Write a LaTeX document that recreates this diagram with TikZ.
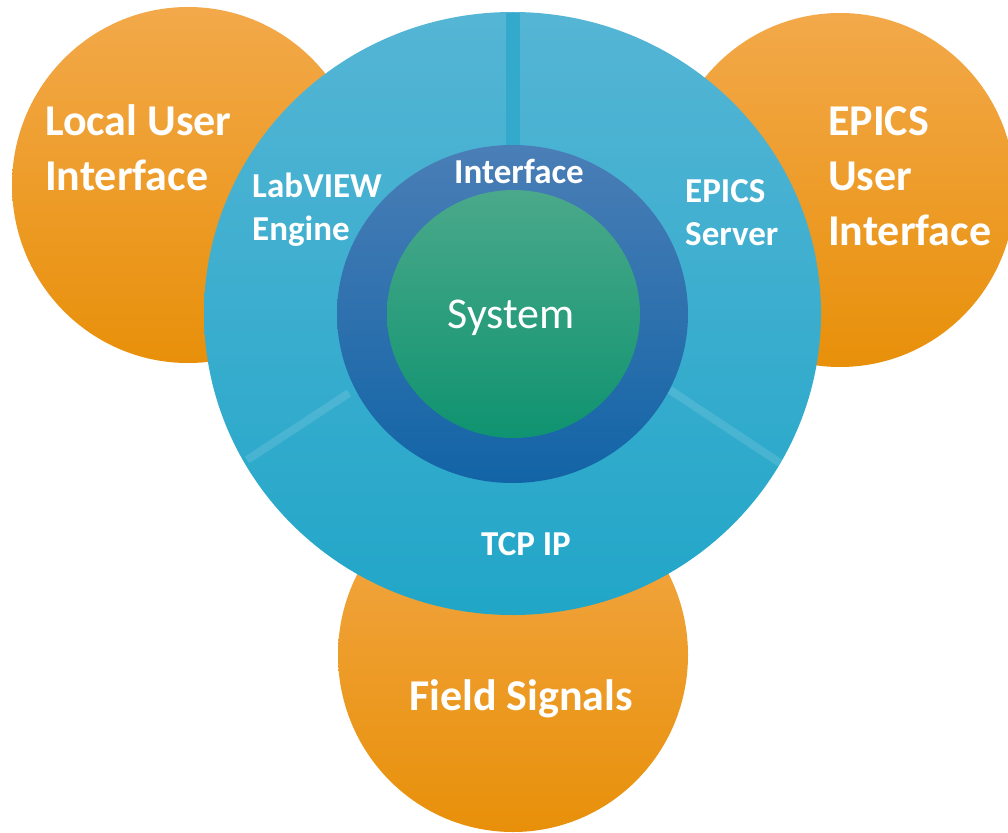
\documentclass[tikz,border=0pt]{standalone}
\usepackage{fontspec}
\setmainfont{Carlito}
\usepackage{tikz}

\definecolor{orgtop}{HTML}{F3A94A}
\definecolor{orgmid}{HTML}{F8A01A}
\definecolor{orgbot}{HTML}{E8900A}
\definecolor{bluetop}{HTML}{55B5D5}
\definecolor{bluemid}{HTML}{2DB0D8}
\definecolor{bluebot}{HTML}{21A6C8}
\definecolor{ringtop}{HTML}{4A7EB6}
\definecolor{ringbot}{HTML}{1264A6}
\definecolor{greentop}{HTML}{4AA98A}
\definecolor{greenbot}{HTML}{0F9370}
\definecolor{barblue}{HTML}{33AACC}

\begin{document}
\begin{tikzpicture}[x=1pt,y=-1pt,
  orangedisc/.style={top color=orgtop,middle color=orgmid,bottom color=orgbot},
  bigtext/.style={text=white,inner sep=0pt,align=left,font=\bfseries\fontsize{44}{55}\selectfont},
  smalltext/.style={text=white,inner sep=0pt,align=left,font=\bfseries\fontsize{35}{43}\selectfont}]
\useasboundingbox (0,0) rectangle (1008,832);
% outer discs
\shade[orangedisc] (188,185) ellipse [x radius=176,y radius=178];
\shade[orangedisc] (840,190) ellipse [x radius=175,y radius=177];
\shade[orangedisc] (513,655) ellipse [x radius=175,y radius=177];
% main disc with its three parts
\shade[top color=bluetop,middle color=bluemid,bottom color=bluebot] (512.5,313.5) ellipse [x radius=308.5,y radius=301.5];
\fill[barblue] (506,13) rectangle (520,150);
\draw[white,opacity=0.12,line width=8pt] (349,393) -- (247,460);
\draw[white,opacity=0.12,line width=8pt] (670,390) -- (780,463);
\shade[top color=ringtop,bottom color=ringbot] (512.5,314) ellipse [x radius=175.5,y radius=169];
\shade[top color=greentop,bottom color=greenbot] (513.5,314) ellipse [x radius=126.5,y radius=124];
% labels (base = last line)
\node[bigtext,anchor=base west] (local) at (45,190) {Local User\\Interface};
\node[bigtext,anchor=base west] (epicsui) at (828,245) {EPICS\\User\\Interface};
\node[bigtext,anchor=base] (field) at (521,710) {Field Signals};
\node[smalltext,anchor=base west] (labview) at (252,240) {LabVIEW\\Engine};
\node[smalltext,anchor=base west] (server) at (685,245) {EPICS\\Server};
\node[smalltext,anchor=base] (iface) at (519,183) {Interface};
\node[smalltext,anchor=base] (tcp) at (526,555) {TCP IP};
\node[text=white,inner sep=0pt,anchor=base,font=\fontsize{44}{55}\selectfont] (system) at (511,328) {System};
\end{tikzpicture}
\end{document}
